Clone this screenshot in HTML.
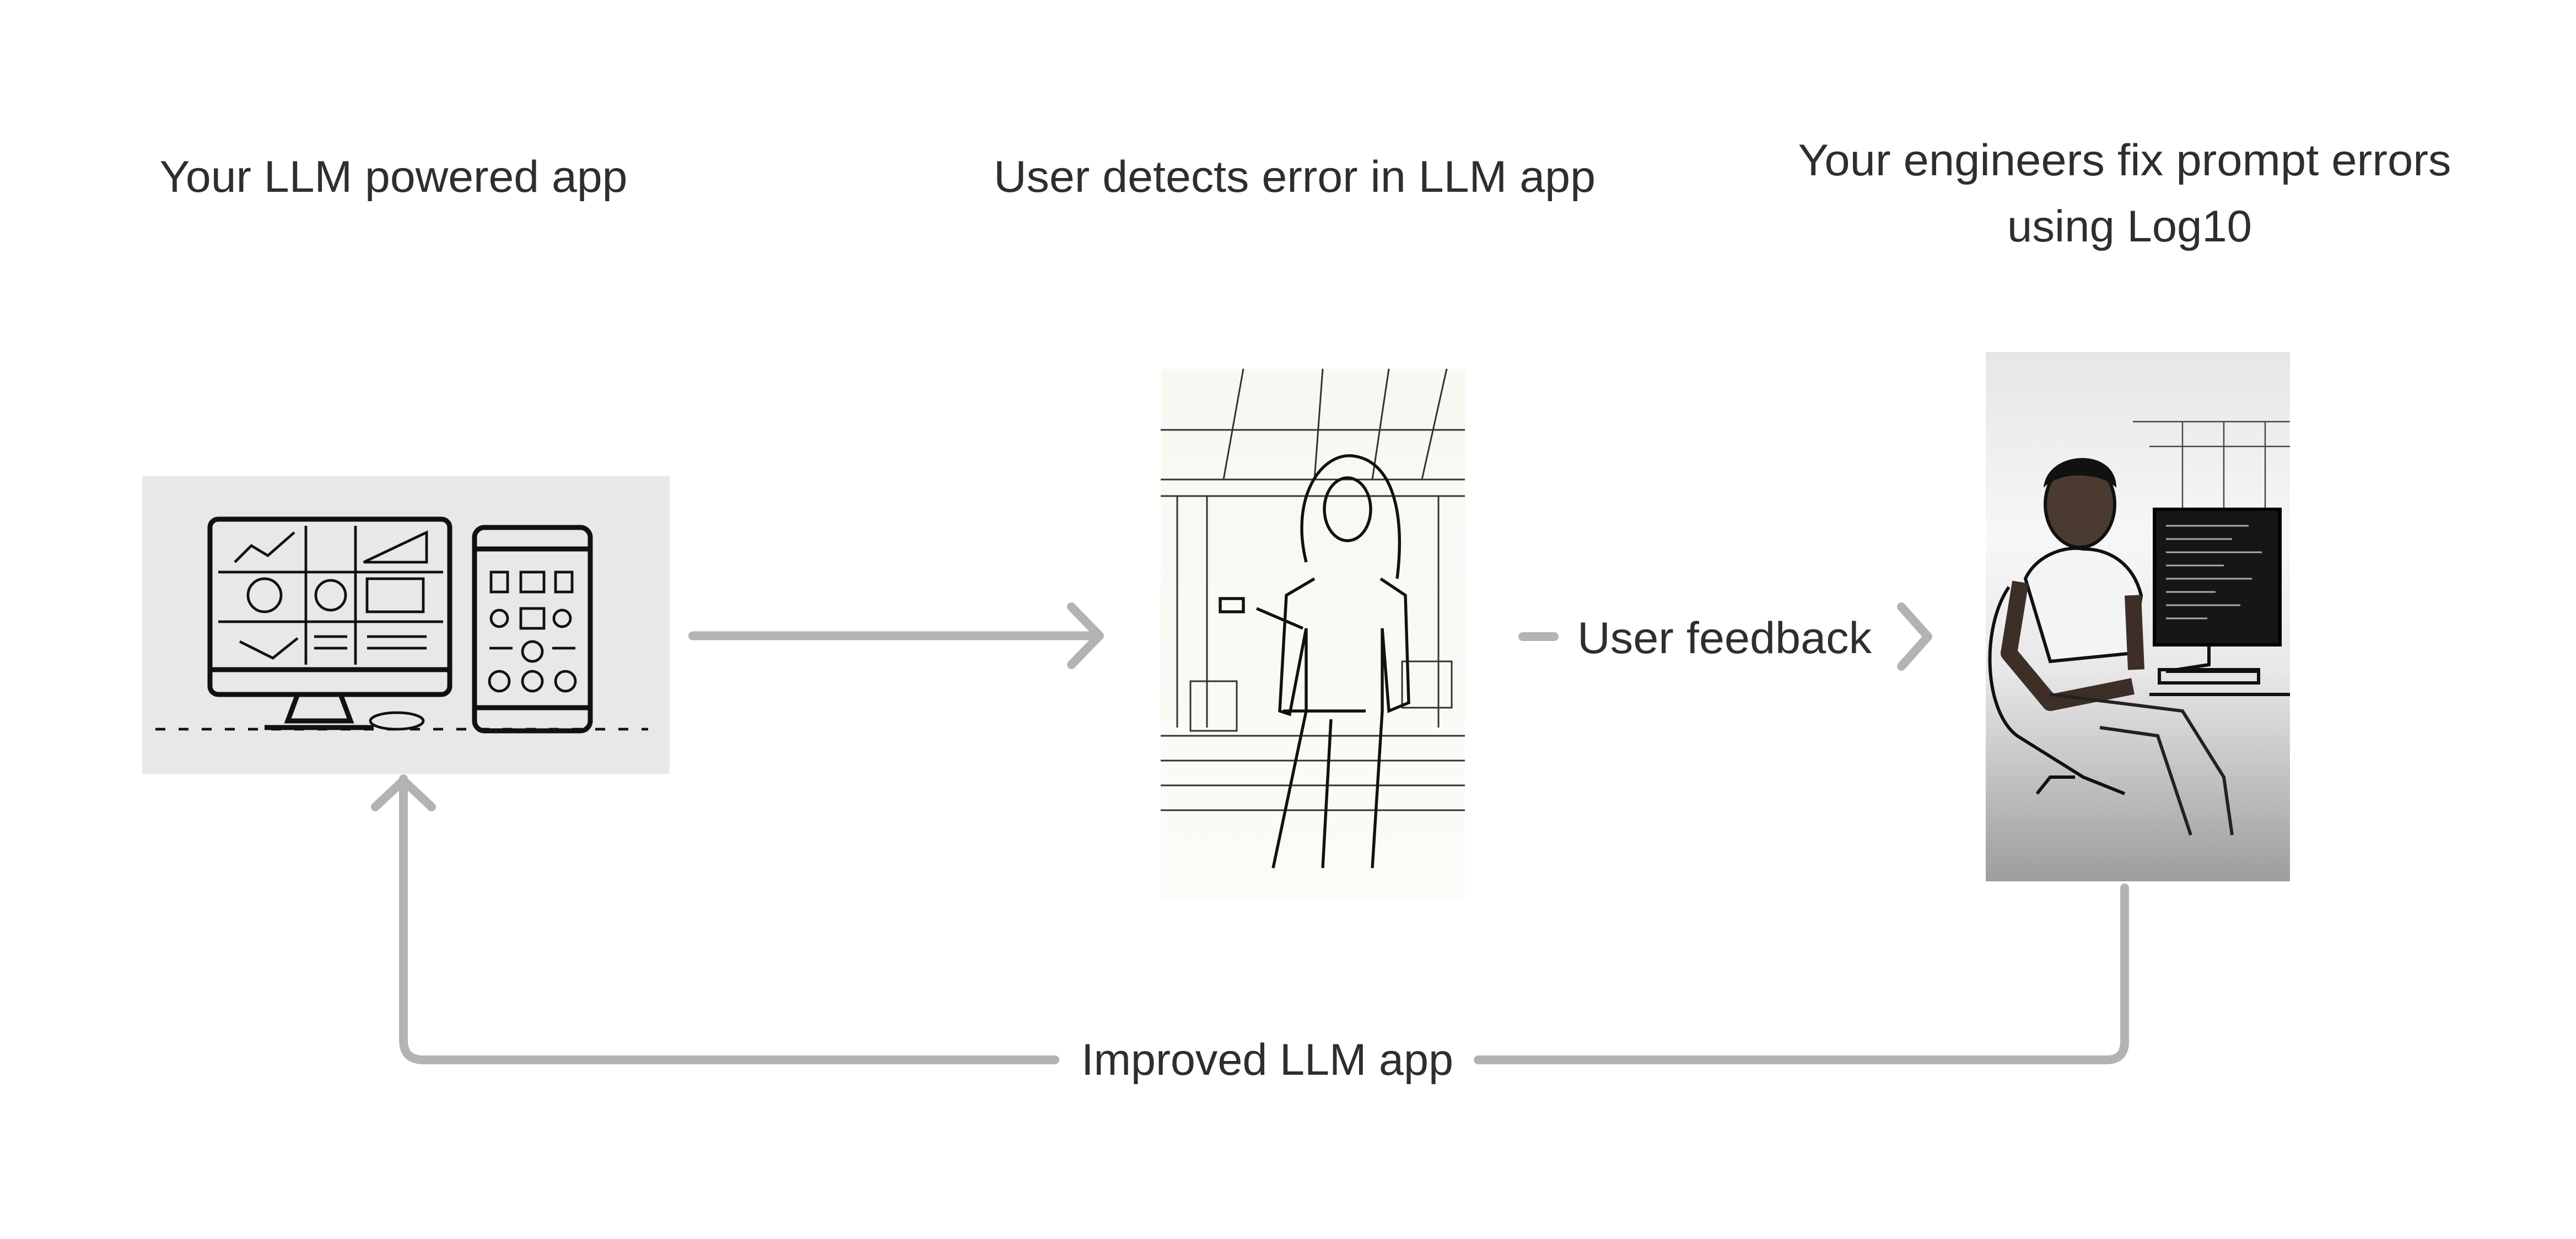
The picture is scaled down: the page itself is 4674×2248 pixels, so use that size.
<!DOCTYPE html>
<html><head><meta charset="utf-8"><style>
html,body{margin:0;padding:0;background:#fff;}
svg{display:block;}
text{font-family:"Liberation Sans",Arial,sans-serif;fill:#2e2e2e;}
</style></head><body>
<svg width="4674" height="2248" viewBox="0 0 1558 749.33" xmlns="http://www.w3.org/2000/svg">
<defs>
<linearGradient id="rg" x1="0" y1="0" x2="0" y2="1">
<stop offset="0" stop-color="#e6e6e6"/><stop offset="0.35" stop-color="#f7f7f7"/><stop offset="0.6" stop-color="#e8e8e8"/><stop offset="1" stop-color="#9d9d9d"/>
</linearGradient>
<linearGradient id="mg" x1="0" y1="0" x2="0" y2="1">
<stop offset="0" stop-color="#f8f7f2"/><stop offset="1" stop-color="#fcfbf7"/>
</linearGradient>
</defs>
<rect width="1558" height="749.33" fill="#fff"/>

<!-- titles -->
<text x="238" y="116" font-size="27" text-anchor="middle" textLength="283" lengthAdjust="spacingAndGlyphs">Your LLM powered app</text>
<text x="783" y="116" font-size="27" text-anchor="middle" textLength="364" lengthAdjust="spacingAndGlyphs">User detects error in LLM app</text>
<text x="1285" y="106" font-size="27" text-anchor="middle" textLength="395" lengthAdjust="spacingAndGlyphs">Your engineers fix prompt errors</text>
<text x="1288" y="146" font-size="27" text-anchor="middle" textLength="148" lengthAdjust="spacingAndGlyphs">using Log10</text>

<!-- left image -->
<rect x="86" y="288" width="319" height="180" fill="#e8e8e8"/>
<g fill="none" stroke="#111" stroke-width="3">
<rect x="127" y="314" width="145" height="106" rx="5"/>
<line x1="127" y1="405" x2="272" y2="405"/>
<path d="M180 420 L174 436 L212 436 L206 420"/>
<line x1="160" y1="440" x2="226" y2="440"/>
<rect x="287" y="319" width="70" height="123" rx="6"/>
<line x1="287" y1="332" x2="357" y2="332"/>
<line x1="287" y1="428" x2="357" y2="428"/>
</g>
<g fill="none" stroke="#111" stroke-width="1.6">
<line x1="185" y1="318" x2="185" y2="402"/><line x1="215" y1="318" x2="215" y2="402"/>
<line x1="132" y1="346" x2="268" y2="346"/><line x1="132" y1="376" x2="268" y2="376"/>
<path d="M142 340 L152 330 L162 336 L178 322"/><circle cx="160" cy="360" r="10"/><circle cx="200" cy="360" r="9"/>
<path d="M220 340 L258 322 L258 340 Z"/><rect x="222" y="350" width="34" height="20"/>
<path d="M145 388 L165 398 L180 386"/><line x1="190" y1="385" x2="210" y2="385"/><line x1="190" y1="392" x2="210" y2="392"/>
<line x1="222" y1="385" x2="258" y2="385"/><line x1="222" y1="392" x2="258" y2="392"/>
<rect x="297" y="346" width="10" height="12"/><rect x="315" y="346" width="14" height="12"/><rect x="336" y="346" width="10" height="12"/>
<circle cx="302" cy="374" r="5"/><rect x="315" y="368" width="14" height="12"/><circle cx="340" cy="374" r="5"/>
<line x1="296" y1="392" x2="310" y2="392"/><circle cx="322" cy="394" r="6"/><line x1="334" y1="392" x2="348" y2="392"/>
<circle cx="302" cy="412" r="6"/><circle cx="322" cy="412" r="6"/><circle cx="342" cy="412" r="6"/>
<line x1="94" y1="441" x2="392" y2="441" stroke-dasharray="6 8"/>
<ellipse cx="240" cy="436" rx="16" ry="5"/>
</g>

<!-- middle image -->
<rect x="702" y="223" width="184" height="320" fill="url(#mg)"/>
<g fill="none" stroke="#333" stroke-width="1">
<line x1="702" y1="260" x2="886" y2="260"/><line x1="702" y1="290" x2="886" y2="290"/>
<line x1="752" y1="223" x2="740" y2="290"/><line x1="800" y1="223" x2="795" y2="290"/><line x1="840" y1="223" x2="830" y2="290"/><line x1="875" y1="223" x2="860" y2="290"/>
<line x1="702" y1="300" x2="886" y2="300"/>
<line x1="712" y1="300" x2="712" y2="440"/><line x1="730" y1="300" x2="730" y2="440"/><line x1="870" y1="300" x2="870" y2="440"/>
<line x1="702" y1="445" x2="886" y2="445"/><line x1="702" y1="460" x2="886" y2="460"/><line x1="702" y1="475" x2="886" y2="475"/><line x1="702" y1="490" x2="886" y2="490"/>
<rect x="720" y="412" width="28" height="30"/><rect x="848" y="400" width="30" height="28"/>
</g>
<g fill="none" stroke="#111" stroke-width="1.8">
<path d="M790 340 C780 300 800 272 820 276 C842 280 850 310 845 350"/>
<ellipse cx="815" cy="308" rx="14" ry="19"/>
<path d="M795 350 L778 360 L774 430 L780 432 L790 380 L790 430 L770 525"/>
<path d="M835 350 L850 360 L852 425 L840 430 L836 380 L836 430 L830 525"/>
<line x1="776" y1="430" x2="826" y2="430"/>
<path d="M788 380 L760 368"/><rect x="738" y="362" width="14" height="8"/>
<line x1="805" y1="435" x2="800" y2="525"/>
</g>

<!-- right image -->
<rect x="1201" y="213" width="184" height="320" fill="url(#rg)"/>
<g fill="none" stroke="#444" stroke-width="0.8">
<line x1="1290" y1="255" x2="1385" y2="255"/><line x1="1300" y1="270" x2="1385" y2="270"/>
<line x1="1320" y1="255" x2="1320" y2="310"/><line x1="1345" y1="255" x2="1345" y2="310"/><line x1="1370" y1="255" x2="1370" y2="310"/>
</g>
<rect x="1303" y="308" width="76" height="82" fill="#161616" stroke="#000" stroke-width="2"/>
<g stroke="#aaa" stroke-width="1">
<line x1="1310" y1="318" x2="1360" y2="318"/><line x1="1310" y1="326" x2="1350" y2="326"/><line x1="1310" y1="334" x2="1368" y2="334"/><line x1="1310" y1="342" x2="1345" y2="342"/><line x1="1310" y1="350" x2="1362" y2="350"/><line x1="1310" y1="358" x2="1340" y2="358"/><line x1="1310" y1="366" x2="1355" y2="366"/><line x1="1310" y1="374" x2="1335" y2="374"/>
</g>
<g fill="none" stroke="#111" stroke-width="2">
<path d="M1336 390 L1336 402 L1310 406 L1365 406"/>
<rect x="1306" y="405" width="60" height="8"/>
<line x1="1300" y1="420" x2="1385" y2="420"/>
<path d="M1215 355 C1198 380 1200 430 1220 445 L1260 470 L1285 480"/>
<path d="M1232 480 L1240 470 L1255 470"/>
</g>
<ellipse cx="1258" cy="305" rx="21" ry="26" fill="#4a3a30" stroke="#111" stroke-width="2"/>
<path d="M1236 295 C1238 272 1280 270 1280 295 C1270 285 1245 285 1236 295 Z" fill="#111"/>
<path d="M1225 350 C1232 335 1250 330 1260 332 C1275 332 1290 340 1295 360 L1290 395 L1240 400 Z" fill="#f4f4f4" stroke="#111" stroke-width="2"/>
<path d="M1222 352 L1215 395 L1240 425 L1290 415" fill="none" stroke="#3d2f28" stroke-width="10" stroke-linejoin="round"/>
<path d="M1290 360 L1292 405" fill="none" stroke="#3d2f28" stroke-width="10"/>
<path d="M1240 420 L1320 430 L1345 470 L1350 505 M1270 440 L1305 445 L1325 505" fill="none" stroke="#222" stroke-width="2"/>

<!-- connectors -->
<g fill="none" stroke="#b3b3b3" stroke-width="5.3" stroke-linecap="round" stroke-linejoin="round">
<line x1="419" y1="384.5" x2="664" y2="384.5"/>
<path d="M648 367 L665 384.5 L648 402"/>
<line x1="921" y1="385" x2="940" y2="385"/>
<path d="M1150 367 L1166 385 L1150 403"/>
<path d="M1285 537 L1285 630 Q1285 641 1274 641 L894 641"/>
<path d="M638 641 L256 641 Q244 641 244 629 L244 471"/>
<path d="M227 488 L244 472 L261 488"/>
</g>
<text x="954" y="395" font-size="27" textLength="178" lengthAdjust="spacingAndGlyphs">User feedback</text>
<text x="654" y="650" font-size="27" textLength="225" lengthAdjust="spacingAndGlyphs">Improved LLM app</text>
</svg>
</body></html>
